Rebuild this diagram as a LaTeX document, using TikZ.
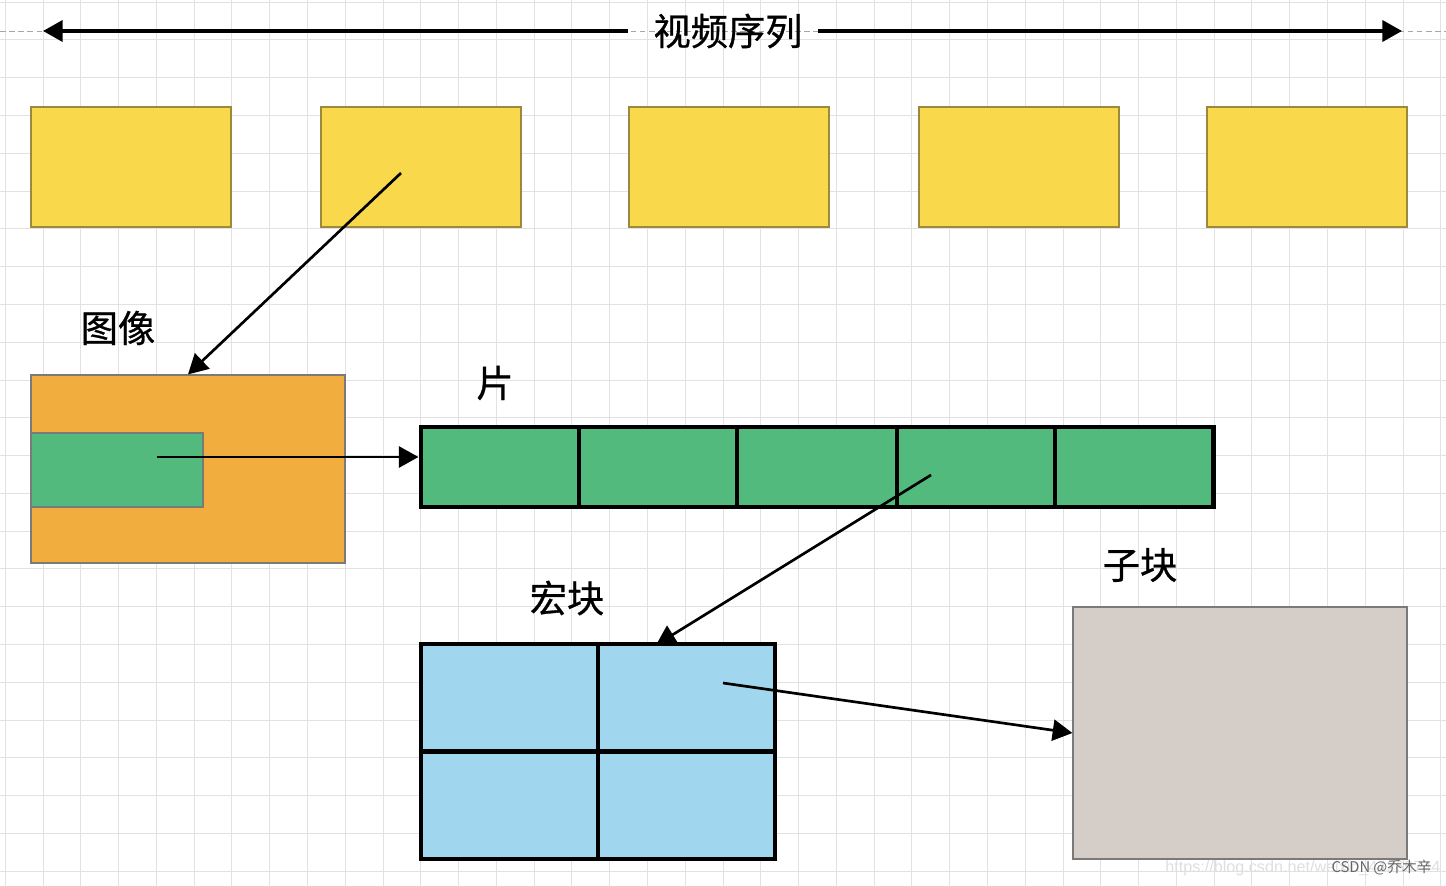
\documentclass[tikz,border=0pt]{standalone}
\usepackage{fontspec}
\newfontfamily\cjk[FakeBold=0.7]{Noto Sans CJK SC}
\newfontfamily\cjkr{Noto Sans CJK SC}
\usetikzlibrary{arrows.meta}
\definecolor{gridc}{HTML}{E2E2E2}
\definecolor{yel}{HTML}{F9D84B}
\definecolor{yelline}{HTML}{9C8A3C}
\definecolor{ora}{HTML}{F1AE3F}
\definecolor{grn}{HTML}{53BA7D}
\definecolor{blu}{HTML}{A1D7EE}
\definecolor{gry}{HTML}{D4CDC8}
\definecolor{thinline}{HTML}{7A7A7A}
\tikzset{
  yelbox/.style={draw=yelline, line width=0.8pt, fill=yel, minimum width=5cm, minimum height=3cm, inner sep=0pt},
  thinbox/.style={draw=thinline, line width=0.8pt, inner sep=0pt},
  thickbox/.style={draw=black, line width=3.4pt, inner sep=0pt},
  lbl/.style={font=\cjk\fontsize{26.5}{30}\selectfont, inner sep=0pt},
  conn/.style={draw=black, line width=1.9pt, -{Triangle[length=14pt, width=15pt]}},
  toparrow/.style={draw=black, line width=2.5pt, -{Triangle[length=14pt, width=15pt]}},
}
\begin{document}
\begin{tikzpicture}[x=0.025cm, y=-0.025cm]
\useasboundingbox[fill=white] (0,0) rectangle (1446,886);
% grid
\foreach \i in {0,...,38} { \draw[gridc, line width=0.7pt] ({5.22+37.78*\i},0) -- ({5.22+37.78*\i},886); }
\foreach \j in {0,...,23} { \draw[gridc, line width=0.7pt] (0,{2.2+37.78*\j}) -- (1446,{2.2+37.78*\j}); }
% dashed guide
\draw[gray!70, line width=0.6pt, dash pattern=on 4pt off 2.5pt] (0,31) -- (1446,31);
% title and top arrow
\node[lbl] (title) at (728,31) {视频序列};
\coordinate (tL) at (628,31);
\coordinate (tR) at (818,31);
\coordinate (aL) at (43,31);
\coordinate (aR) at (1402,31);
\draw[toparrow] (tL) -- (aL);
\draw[toparrow] (tR) -- (aR);
% yellow frames
\node[yelbox] (f1) at (131,167) {};
\node[yelbox] (f2) at (421,167) {};
\node[yelbox] (f3) at (729,167) {};
\node[yelbox] (f4) at (1019,167) {};
\node[yelbox] (f5) at (1307,167) {};
% image
\node[lbl] (limg) at (118,328) {图像};
\node[thinbox, fill=ora, minimum width=7.85cm, minimum height=4.7cm] (img) at (188,469) {};
\node[thinbox, fill=grn, minimum width=4.3cm, minimum height=1.85cm] (slc) at (117,470) {};
% slice strip
\node[lbl] (lslice) at (495,383) {片};
\node[thickbox, fill=grn, minimum width=19.8cm, minimum height=2cm] (strip) at (817,467) {};
\foreach \xx in {579,737,897,1055} { \draw[black, line width=3.4pt] (\xx,427) -- (\xx,507); }
% macroblock
\node[lbl] (lmb) at (567,598) {宏块};
\node[thickbox, fill=blu, minimum width=8.85cm, minimum height=5.375cm] (mb) at (598,751.5) {};
\draw[black, line width=3.4pt] (mb.north) -- (mb.south);
\draw[black, line width=3.4pt] (mb.west) -- (mb.east);
% sub block
\node[lbl] (lsub) at (1140,565) {子块};
\node[thinbox, fill=gry, minimum width=8.35cm, minimum height=6.3cm] (sub) at (1240,733) {};
% connectors
\coordinate (s1) at (401,173);
\draw[conn] (s1) -- (img.north);
\coordinate (s2) at (157,457);
\draw[conn] (s2) -- (s2 -| strip.west);
\coordinate (s3) at (931,475);
\coordinate (e3) at (656,645);
\draw[conn] (s3) -- (e3);
\coordinate (s4) at (723,683);
\draw[conn] (s4) -- (sub.west);
% watermark
\node[anchor=west, inner sep=0pt, text=gray!25, font=\fontspec{Liberation Sans}\fontsize{11.5}{12}\selectfont] (wm) at (1165,868) {https://blog.csdn.net/weixin\_44269744};
\node[anchor=east, inner sep=0pt, text=black!60, font=\cjkr\fontsize{10.5}{12}\selectfont] (csdn) at (1432,868) {CSDN @乔木辛};
\end{tikzpicture}
\end{document}
